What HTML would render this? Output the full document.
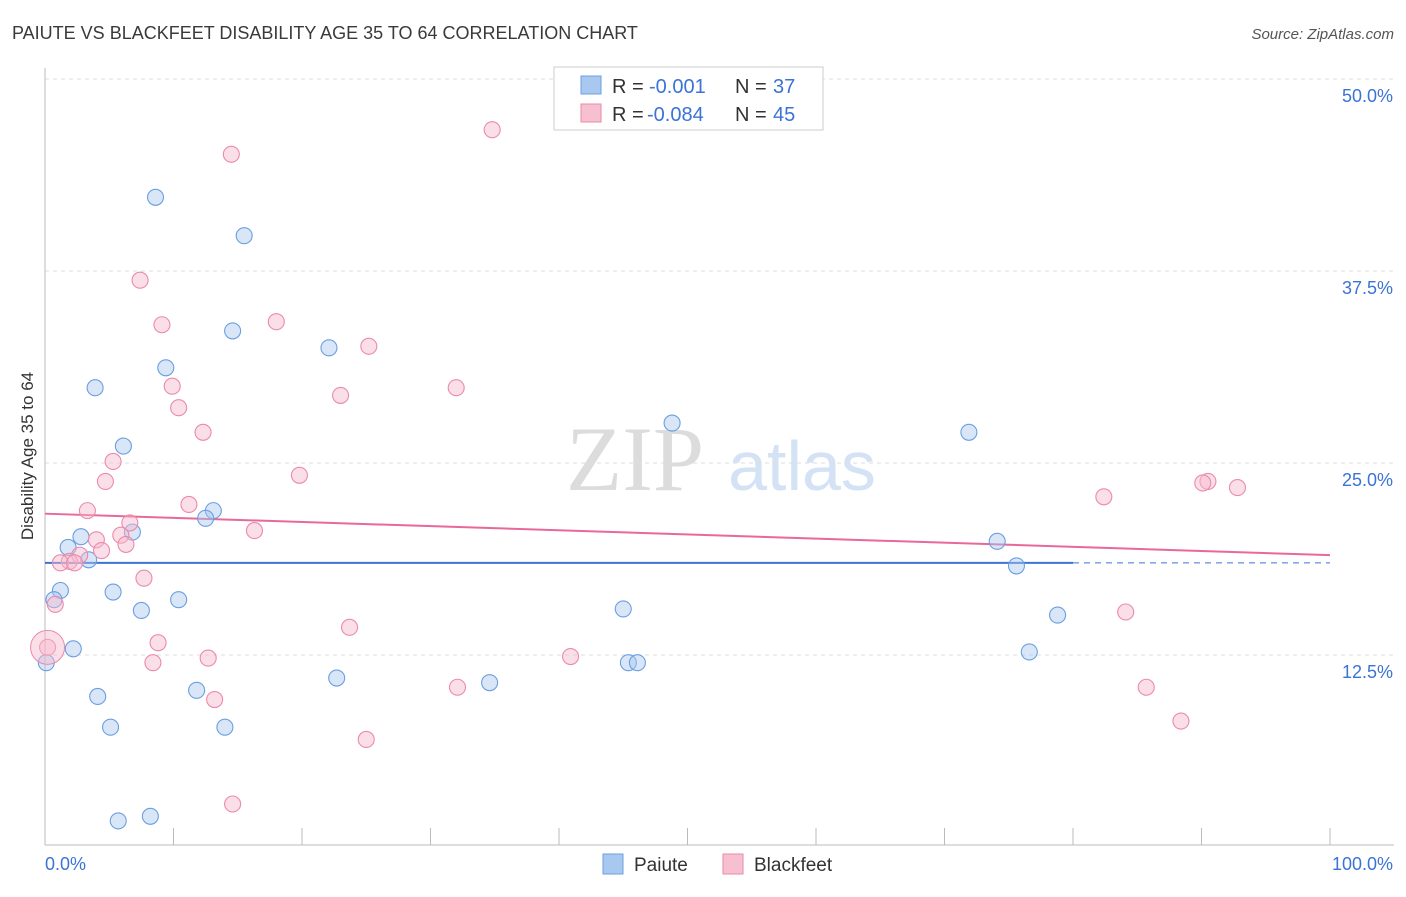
<!DOCTYPE html>
<html><head><meta charset="utf-8"><style>
body{margin:0;background:#fff;font-family:"Liberation Sans",sans-serif;}
</style></head><body>
<svg id="chart" width="1406" height="892" xmlns="http://www.w3.org/2000/svg" font-family="Liberation Sans, sans-serif">
<text x="12" y="39" font-size="18" fill="#3a3a3a">PAIUTE VS BLACKFEET DISABILITY AGE 35 TO 64 CORRELATION CHART</text>
<text x="1394" y="39" font-size="15" fill="#555" text-anchor="end" font-style="italic">Source: ZipAtlas.com</text>
<text transform="translate(33,456) rotate(-90)" font-size="17" fill="#333" text-anchor="middle">Disability Age 35 to 64</text>
<g>
<text x="635" y="490" font-size="92" fill="#dcdcdc" text-anchor="middle" font-family="Liberation Serif, serif">ZIP</text>
<text x="802" y="490" font-size="70" fill="#d3e2f5" text-anchor="middle">atlas</text></g>
<g id="grid"></g><g id="axes"></g><g id="lines"></g><g id="points"></g>
<g>
<rect x="554" y="67" width="269" height="63" fill="#fff" stroke="#ccc"/>
<rect x="581" y="76" width="20" height="18" fill="#a9c8f0" stroke="#6a9fe0"/>
<text x="612" y="93" font-size="20" fill="#333">R =</text>
<text x="649" y="93" font-size="20" fill="#3b73d6">-0.001</text>
<text x="735" y="93" font-size="20" fill="#333">N =</text>
<text x="773" y="93" font-size="20" fill="#3b73d6">37</text>
<rect x="581" y="104" width="20" height="18" fill="#f7c0d0" stroke="#eb8aaa"/>
<text x="612" y="121" font-size="20" fill="#333">R =</text>
<text x="647" y="121" font-size="20" fill="#3b73d6">-0.084</text>
<text x="735" y="121" font-size="20" fill="#333">N =</text>
<text x="773" y="121" font-size="20" fill="#3b73d6">45</text>
</g>
<g>
<rect x="603" y="854" width="20" height="20" fill="#a9c8f0" stroke="#6a9fe0"/>
<text x="634" y="871" font-size="19" fill="#333">Paiute</text>
<rect x="723" y="854" width="20" height="20" fill="#f7c0d0" stroke="#eb8aaa"/>
<text x="754" y="871" font-size="19" fill="#333">Blackfeet</text></g>
</svg>
<script>
const yTicks=[12.5,25,37.5,50];
const yTickLabels=["12.5%","25.0%","37.5%","50.0%"];
const xTickLabels=["0.0%","100.0%"];
const paiuteX=[8.6,15.5,14.6,22.1,9.4,3.9,6.1,48.8,71.9,13.1,12.5,6.8,2.8,1.8,3.4,74.1,75.6,1.2,5.3,0.7,10.4,7.5,45.0,78.8,2.2,76.6,0.1,45.4,46.1,4.1,11.8,22.7,34.6,5.1,14.0,5.7,8.2];
const paiuteY=[42.3,39.8,33.6,32.5,31.2,29.9,26.1,27.6,27.0,21.9,21.4,20.5,20.2,19.5,18.7,19.9,18.3,16.7,16.6,16.1,16.1,15.4,15.5,15.1,12.9,12.7,12.0,12.0,12.0,9.8,10.2,11.0,10.7,7.8,7.8,1.7,2.0];
const blackfeetX=[34.8,14.5,7.4,9.1,18.0,25.2,9.9,23.0,32.0,10.4,12.3,5.3,19.8,4.7,3.3,11.2,16.3,6.6,5.9,4.0,6.3,4.4,2.7,1.9,1.2,2.3,82.4,90.5,90.1,92.8,7.7,0.8,23.7,8.8,84.1,0.2,8.4,12.7,40.9,13.2,32.1,85.7,88.4,25.0,14.6];
const blackfeetY=[46.7,45.1,36.9,34.0,34.2,32.6,30.0,29.4,29.9,28.6,27.0,25.1,24.2,23.8,21.9,22.3,20.6,21.1,20.3,20.0,19.7,19.3,19.0,18.6,18.5,18.5,22.8,23.8,23.7,23.4,17.5,15.8,14.3,13.3,15.3,13.0,12.0,12.3,12.4,9.6,10.4,10.4,8.2,7.0,2.8];
const paiuteTrend=[18.5,18.5];
const blackfeetTrend=[21.7,19.0];
const X=v=>45+v*12.85, Y=v=>847-v*15.36;
const NS="http://www.w3.org/2000/svg";
function mk(tag,attrs,parent){const e=document.createElementNS(NS,tag);for(const k in attrs)e.setAttribute(k,attrs[k]);document.getElementById(parent).appendChild(e);return e;}
yTicks.forEach((t,i)=>{
 const l=mk('line',{x1:45,x2:1394,y1:Y(t),y2:Y(t),stroke:'#ddd','stroke-dasharray':'4,4'},'grid');
 
 
 const tx=mk('text',{x:1393,y:Y(t)+23,'font-size':18,fill:'#3b73d6','text-anchor':'end'},'grid');tx.textContent=yTickLabels[i];
 
 
});
const ax=mk('line',{x1:45,x2:1394,y1:845,y2:845,stroke:'#bbb'},'axes');


const ay=mk('line',{x1:45,x2:45,y1:68,y2:845,stroke:'#bbb'},'axes');


for(let i=0;i<=10;i++){const t=mk('line',{x1:X(i*10),x2:X(i*10),y1:828,y2:845,stroke:'#bbb'},'axes');
 
 }
[[0,'start',45],[1,'end',1393]].forEach(([i,a,x])=>{const t=mk('text',{x:x,y:870,'font-size':18,fill:'#3b73d6','text-anchor':a},'axes');t.textContent=xTickLabels[i];
 
 });
function pts(xs,ys,fill,stroke,name){xs.forEach((x,i)=>{const c=mk('circle',{cx:X(x),cy:Y(ys[i]),r:8,fill:fill,'fill-opacity':0.45,stroke:stroke,'stroke-width':1.1},'points');
 
 });}
pts(paiuteX,paiuteY,'#a9c8f0','#6a9fe0','paiute-point');
pts(blackfeetX,blackfeetY,'#f7b8cb','#eb8aaa','blackfeet-point');
const big=mk('circle',{cx:X(0.2),cy:Y(13.0),r:17,fill:'#f7b8cb','fill-opacity':0.45,stroke:'#eb8aaa'},'points');


const py=t=>paiuteTrend[0]+(paiuteTrend[1]-paiuteTrend[0])*t/100;
const l1=mk('line',{x1:X(0),x2:X(80),y1:Y(py(0)),y2:Y(py(80)),stroke:'#3b73d6','stroke-width':2},'lines');


const l2=mk('line',{x1:X(80),x2:X(100),y1:Y(py(80)),y2:Y(py(100)),stroke:'#3b73d6','stroke-width':1,'stroke-dasharray':'6,5'},'lines');


const l3=mk('line',{x1:X(0),x2:X(100),y1:Y(blackfeetTrend[0]),y2:Y(blackfeetTrend[1]),stroke:'#e8689a','stroke-width':2},'lines');


</script>
</body></html>
